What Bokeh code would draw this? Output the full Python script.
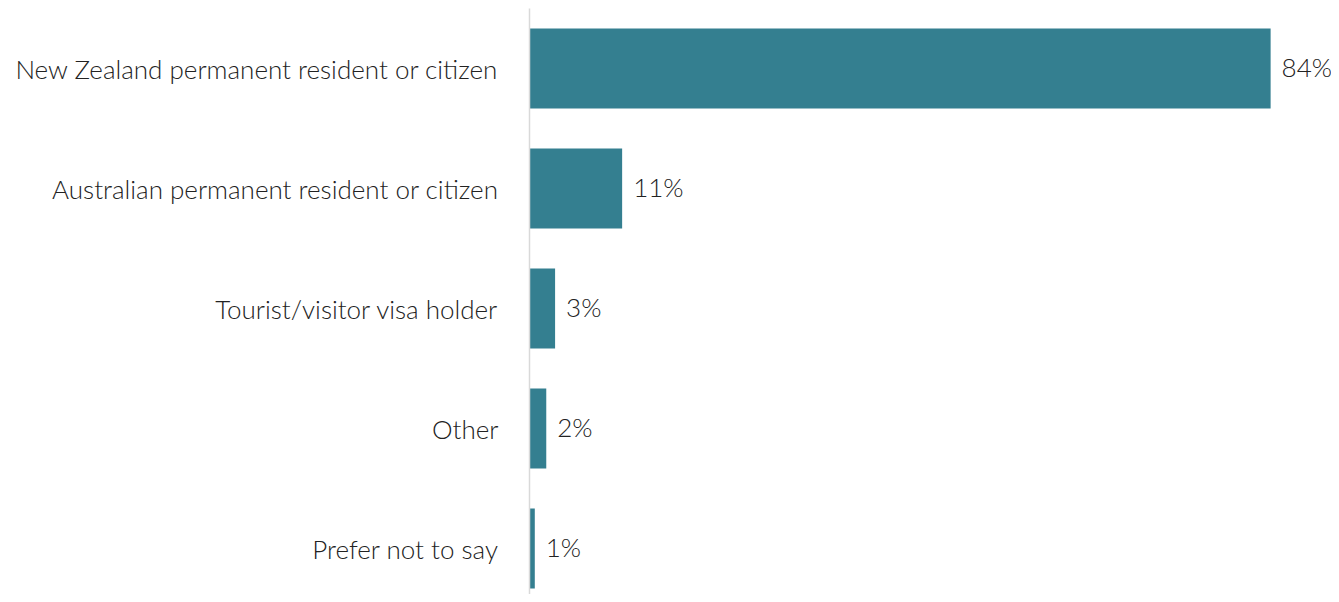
from bokeh.plotting import figure
from bokeh.models import Range1d, FixedTicker, ColumnDataSource
from bokeh.core.properties import value
from bokeh.embed import file_html
from bokeh.resources import INLINE

categories = [
    "New Zealand permanent resident or citizen",
    "Australian permanent resident or citizen",
    "Tourist/visitor visa holder",
    "Other",
    "Prefer not to say",
]
values = [84.0, 10.5, 2.9, 1.9, 0.6]
labels = ["84%", "11%", "3%", "2%", "1%"]

positions = [i + 0.5 for i in range(len(categories))]

W, H = 1331, 594
LEFT, TOP = 529, 8
FONT = "Lato Light"
FS = "26px"
BAR_COLOR = "#347f90"
TEXT_COLOR = "#222222"

p = figure(
    width=W, height=H,
    output_backend="svg", toolbar_location=None,
    x_range=Range1d(0, 90.9), y_range=Range1d((H - TOP) / 120.0, 0),
    min_border_left=LEFT, min_border_right=0, min_border_top=TOP, min_border_bottom=0,
)

src = ColumnDataSource(dict(y=positions, v=values, lab=labels))
p.hbar(y="y", right="v", left=0, height=0.667, source=src,
       fill_color=BAR_COLOR, line_color=None)
p.text(x="v", y="y", text="lab", source=src, x_offset=11, y_offset=-2,
       text_align="left", text_baseline="middle",
       text_font=value(FONT), text_font_size=FS, text_color=TEXT_COLOR)

p.xaxis.visible = False
yax = p.yaxis[0]
yax.ticker = FixedTicker(ticks=positions)
yax.major_label_overrides = {pos: cat for pos, cat in zip(positions, categories)}
yax.axis_line_color = "#d9d9d9"
yax.axis_line_width = 1.5
yax.major_tick_line_color = None
yax.minor_tick_line_color = None
yax.major_label_text_font = FONT
yax.major_label_text_font_size = FS
yax.major_label_text_color = TEXT_COLOR
yax.major_label_standoff = 25

p.xgrid.visible = False
p.ygrid.visible = False
p.outline_line_color = None
p.background_fill_color = "white"
p.border_fill_color = "white"

open("out.html", "w").write(file_html(p, INLINE))
